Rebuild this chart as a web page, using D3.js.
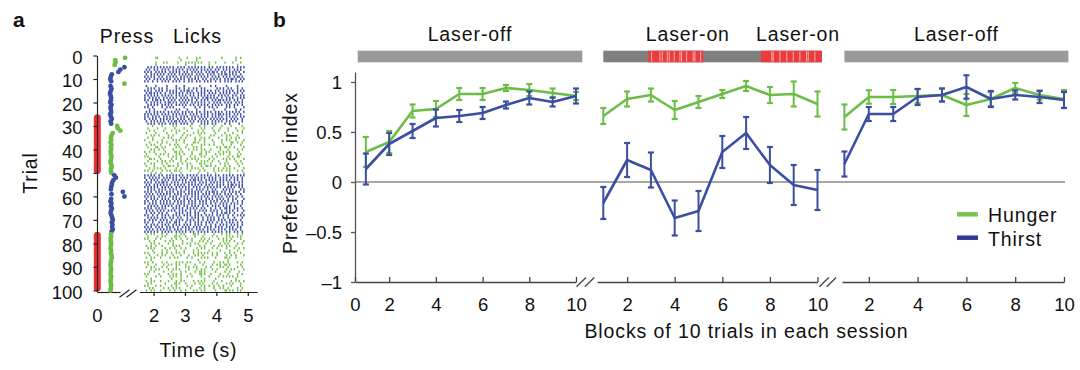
<!DOCTYPE html>
<html><head><meta charset="utf-8">
<script src="https://cdn.jsdelivr.net/npm/d3@7"></script>
<style>
body{margin:0;background:#fff;}
svg{display:block;font-family:"Liberation Sans",Arial,Helvetica,sans-serif;}
</style></head><body>
<svg id="c" width="1080" height="370"></svg>
<script>
// ================= DATA =================
// Panel a: lick raster (hex-encoded 0.05 s bins from 1.70 s, one string per trial 1..100)
const lickStart = 1.7, lickBin = 0.05;
const lickRows = [
"0180021050004024","0000010040000020","010a042aa8441084","0100002080400010",
"2aaaa54aaa52aa95","52952a954aa52a54","a954aa52a95a52a9","4aa952aa54a95aa4",
"aa52a954aa952a5a","52aa954aa52a95a5","a4952a4a52a4952a","0000000000000000",
"4102084010240810","2a520a494a02a512","a952a95a4aa52a95","5aa4aa952a54aa52",
"aa954aa52aa954a5","954aa952a5aa4a95","a5a952aa4a95aa52","4aa5a952aa4a952a",
"2a954aa52a954a52","a412a04092520a41","12040a1042081024","52a954aa52a54aa9",
"aa952aa54a95aa54","a54aa952aa954aa5","952aa54a952aa952","4aa95aa52a954aa2",
"2a54a9520a941208","0410280412084102","208410420a108421","12084a1024090412",
"410208412a041082","0a41209410284a10","240941208a410928","84102a4092104a21",
"10920841a2084192","4a2094120a482104","21940a2148029a41","0a4821094a208412",
"92041a8209412a08","41290a421904a214","a04129048a120498","1a204912a0482a41",
"2094a1204a910824","8a1204941a209412","4209a41209a41208","12a40912a4092a41",
"a4129a0412094a12","0920410020840201","aa52aa954aa52a95","954aa952aa54a952",
"4a952aa5a954aa52","a95a54aa952aa54a","52aa954aa952a5aa","aa954aa952aa954a",
"2a54a92a54942a85","a952a54aa95a52a9","54aa952aa54a9524","aa54a952aa954a92",
"4a952a54a952a4a1","a52a954a952a5492","952aa54a9524a952","2a954a52a4952a44",
"a9542a954a249a52","54a952a4952a4a91","4a520a94a2125a42","a4952a54a952a495",
"2a94a512a4a92442","952a4a9524a952a4","a4529a24a9524a92","4a952a54a924a952",
"a952a4a952a54a94","54aa952a54a952a4","aa954aa52a954a52","4a120941a2084a12",
"20941a2084120a94","a12049120a412904","1204a08214902a41","0a412094a1209412",
"49102a0412094a20","2a0491204a120849","0412084120408210","a2124a412a921244",
"10942108a4120921","4a2094120a841a20","0800000020000400","a4120a941208a412",
"21094a2084129a04","4a1208294120a412","09412a084a120941","120841209a041208",
"a04129041a208412","4120a91208412a90","0800410002040020","4a2109412a084129",
"28041a2094120a84","a12048120a492104","14092a041208a412","4a2091214a041a94"
];
// trial type per trial (H = hunger, T = thirst)
const trialType = ("HHHHT TTTTT THTTT TTTTT TTTTT TTTTH HHHHH HHHHH HHHHH HHHHH " +
                   "TTTTT TTTTT TTTTT TTTTT TTTTT HHHHH HHHHH HHHHH HHHHH HHHHH").replace(/ /g,"");
// lever-press time (s) per trial
const pressTimes = [
0.89,0.58,0.59,0.56,
0.87,0.74,0.68,0.47,0.44,0.42,0.45,0.87,0.43,0.46,0.44,0.41,0.43,0.45,0.44,0.42,0.46,0.43,0.44,0.45,0.42,0.44,0.47,0.43,0.45,
0.64,0.66,0.74,0.50,0.46,0.44,0.45,0.43,0.46,0.44,0.45,0.43,0.44,0.46,0.45,0.43,0.44,0.47,0.45,0.44,0.46,
0.55,0.60,0.52,0.48,0.47,0.45,0.44,0.82,0.46,0.87,0.45,0.43,0.46,0.44,0.47,0.45,0.43,0.46,0.48,0.50,0.47,0.49,0.48,0.50,0.46,
0.44,0.45,0.43,0.44,0.45,0.44,0.43,0.45,0.44,0.46,0.47,0.45,0.44,0.43,0.44,0.45,0.44,0.43,0.45,0.44,0.43,0.44,0.45,0.44,0.43
];
const laserTrialRanges = [[25,50],[75,100]];
const trialTicks = [0,10,20,30,40,50,60,70,80,90,100];
const timeTicks = [2,3,4,5];

// Panel b: preference index per block of 10 trials
const blocks = [1,2,3,4,5,6,7,8,9,10];
const blockTicks = [2,4,6,8,10];
const prefTicks = [-1,-0.5,0,0.5,1];
const hungerOff1    = [0.30,0.40,0.71,0.73,0.88,0.88,0.94,0.92,0.89,0.86];
const hungerOff1Err = [0.15,0.11,0.065,0.08,0.06,0.06,0.03,0.06,0.045,0.04];
const thirstOff1    = [0.13,0.38,0.51,0.64,0.66,0.69,0.77,0.84,0.80,0.86];
const thirstOff1Err = [0.155,0.11,0.07,0.085,0.06,0.06,0.035,0.065,0.045,0.075];
const hungerOn      = [0.66,0.83,0.87,0.72,0.80,0.88,0.96,0.87,0.88,0.78];
const hungerOnErr   = [0.08,0.075,0.065,0.09,0.06,0.04,0.05,0.08,0.125,0.125];
const thirstOn      = [-0.21,0.22,0.12,-0.36,-0.29,0.30,0.49,0.17,-0.03,-0.08];
const thirstOnErr   = [0.16,0.17,0.175,0.175,0.20,0.16,0.16,0.18,0.20,0.20];
const hungerOff2    = [0.65,0.85,0.85,0.86,0.87,0.77,0.83,0.94,0.87,0.83];
const hungerOff2Err = [0.125,0.067,0.07,0.07,0.065,0.11,0.07,0.05,0.045,0.09];
const thirstOff2    = [0.18,0.68,0.68,0.85,0.87,0.95,0.83,0.87,0.85,0.82];
const thirstOff2Err = [0.125,0.07,0.07,0.08,0.065,0.117,0.08,0.045,0.06,0.08];
const sessionLabels = ["Laser-off","Laser-on","Laser-on","Laser-off"];
const laserOnBlocks = [[2.89,5.2],[7.63,10.18]];
const laserPulseMarks = [3.03,3.38,3.48,3.69,3.77,3.98,4.22,4.29,4.5,4.78,4.85,5.09,
                         8.08,8.14,8.42,8.71,8.98,9.26,9.54,9.61,9.89];
const seriesNames = ["Hunger","Thirst"];

// ================= STYLE =================
const GREEN = "#6cbd46", BLUE = "#3b4ea2";
const LICK_G = "#74c04c", LICK_B = "#3d50a4";
const TXT = "#111";
const svg = d3.select("#c");
const wordStyle = sel => sel.attr("font-size",19.5).attr("letter-spacing","0.9px").attr("fill",TXT);

// ================= PANEL A =================
const gA = svg.append("g");
const yT = d3.scaleLinear().domain([0,100]).range([55.5,290.5]);
const xP = d3.scaleLinear().domain([0,0.73]).range([97,120]);
const xL = d3.scaleLinear().domain([1.55,5.3]).range([139.4,257.2]);
const axisYA = 292;

// laser bars
gA.selectAll("rect.laser").data(laserTrialRanges).join("rect")
  .attr("x",93.8).attr("width",7).attr("rx",3.5)
  .attr("y",d=>yT(d[0])).attr("height",d=>yT(d[1])-yT(d[0])+1)
  .attr("fill","#ea2f35");

// y axis
const ayA = gA.append("g").attr("transform","translate(97,0)")
  .call(d3.axisLeft(yT.copy().domain([0,100.7]).range([55.5,292])).tickValues(trialTicks).tickSize(3.5).tickSizeOuter(0).tickPadding(11).tickFormat(d3.format("d")));
ayA.attr("font-family",null);
ayA.selectAll("text").attr("font-size",18.5).attr("fill",TXT).attr("dy","0.42em");
ayA.selectAll("path,line").attr("stroke","#222").attr("stroke-width",1.2);

// press axis (0)
const axP = gA.append("g").attr("transform",`translate(0,${axisYA})`)
  .call(d3.axisBottom(xP).tickValues([0]).tickSize(0).tickSizeOuter(0).tickFormat(d3.format("d")));
// lick axis
const axL = gA.append("g").attr("transform",`translate(0,${axisYA})`)
  .call(d3.axisBottom(xL).tickValues(timeTicks).tickSize(4).tickSizeOuter(0).tickFormat(d3.format("d")));
[axP,axL].forEach(a=>{
  a.attr("font-family",null);
  a.selectAll("text").attr("font-size",18.5).attr("fill",TXT).attr("dy",null).attr("y",29.5);
  a.selectAll("path,line").attr("stroke","#222").attr("stroke-width",1.2);
});
// break marks
[119.5,126.5].forEach(x0=>{
  gA.append("line").attr("x1",x0).attr("y1",297.3).attr("x2",x0+10).attr("y2",289.8)
    .attr("stroke","#222").attr("stroke-width",1.2);
});

// licks
const licks = [];
lickRows.forEach((row,i)=>{
  [...row].forEach((h,dIdx)=>{
    const v = parseInt(h,16);
    for(let b=0;b<4;b++) if(v & (8>>b))
      licks.push({trial:i+1, t: lickStart + (dIdx*4+b+0.5)*lickBin, type: trialType[i]});
  });
});
gA.append("g").selectAll("rect").data(licks).join("rect")
  .attr("x",d=>xL(d.t)-0.75).attr("y",d=>yT(d.trial)-1.15)
  .attr("width",1.5).attr("height",2.3)
  .attr("fill",d=>d.type==="H"?LICK_G:LICK_B);

// press dots
gA.append("g").selectAll("circle").data(pressTimes).join("circle")
  .attr("cx",d=>xP(d)).attr("cy",(d,i)=>yT(i+1)).attr("r",2.4)
  .attr("fill",(d,i)=>trialType[i]==="H"?GREEN:BLUE);

// panel a texts
gA.append("text").attr("x",127).attr("y",42.5).attr("text-anchor","middle").text("Press").call(wordStyle);
gA.append("text").attr("x",197.5).attr("y",42.5).attr("text-anchor","middle").text("Licks").call(wordStyle);
gA.append("text").attr("transform","translate(37,173) rotate(-90)").attr("text-anchor","middle").text("Trial").call(wordStyle);
gA.append("text").attr("x",198.5).attr("y",356.5).attr("text-anchor","middle").text("Time (s)").call(wordStyle);
svg.append("text").attr("x",13).attr("y",27).attr("font-size",21).attr("font-weight","bold").attr("fill",TXT).text("a");

// ================= PANEL B =================
const gB = svg.append("g");
const yB = d3.scaleLinear().domain([-1,1]).range([282,82]);
const sections = [
  {range:[342.5,576],  axStart:0.535, bar:[0.65,10.27], hunger:hungerOff1, hErr:hungerOff1Err, thirst:thirstOff1, tErr:thirstOff1Err, barColor:"#9a9a9a", zeroLabel:true},
  {range:[579.5,817.5],axStart:0.74,  bar:[1.0,10.18],  hunger:hungerOn,   hErr:hungerOnErr,   thirst:thirstOn,   tErr:thirstOnErr,   barColor:"#808080", laser:true},
  {range:[820,1064],   axStart:0.9,   bar:[1.0,10.18],  hunger:hungerOff2, hErr:hungerOff2Err, thirst:thirstOff2, tErr:thirstOff2Err, barColor:"#9a9a9a"}
];
sections.forEach(s=>{ s.x = d3.scaleLinear().domain([0,10]).range(s.range); });

// zero line
gB.append("line").attr("x1",355).attr("x2",sections[2].x(10)+1).attr("y1",yB(0)).attr("y2",yB(0))
  .attr("stroke","#8a8a8a").attr("stroke-width",1.5);

// y axis
const ayB = gB.append("g").attr("transform","translate(355,0)")
  .call(d3.axisLeft(yB.copy().domain([-1,1.1]).range([282,72])).tickValues(prefTicks).tickSize(4).tickSizeOuter(0).tickPadding(9)
  .tickFormat(d=> d===0?"0": (d<0?"\u2013":"") + d3.format("")(Math.abs(d))));
ayB.attr("font-family",null);
ayB.selectAll("text").attr("font-size",18.5).attr("fill",TXT).attr("dy","0.36em");
ayB.selectAll("path,line").attr("stroke","#555").attr("stroke-width",1.3);

sections.forEach((s,si)=>{
  // x axis
  const sc = s.x.copy().domain([s.axStart,10]).range([s.x(s.axStart), s.x(10)]);
  const tv = s.zeroLabel ? [s.axStart].concat(blockTicks) : blockTicks;
  const ax = gB.append("g").attr("transform",`translate(0,${yB(-1)})`)
    .call(d3.axisBottom(sc).tickValues(tv).tickSize(-5).tickSizeOuter(0).tickFormat(d=>d<1?"0":d));
  ax.attr("font-family",null);
  ax.selectAll("text").attr("font-size",18.5).attr("fill",TXT).attr("dy",null).attr("y",28.5);
  ax.selectAll("path,line").attr("stroke","#444").attr("stroke-width",1.3);

  // session bar
  gB.append("rect").attr("x",s.x(s.bar[0])).attr("width",s.x(s.bar[1])-s.x(s.bar[0]))
    .attr("y",50.7).attr("height",11.6).attr("fill",s.barColor);
  if(s.laser){
    gB.selectAll(null).data(laserOnBlocks).join("rect")
      .attr("x",d=>s.x(d[0])).attr("width",d=>s.x(d[1])-s.x(d[0]))
      .attr("y",50.7).attr("height",11.6).attr("fill","#ec3b3e");
    gB.selectAll(null).data(laserPulseMarks).join("line")
      .attr("x1",d=>s.x(d)).attr("x2",d=>s.x(d)).attr("y1",51.5).attr("y2",61.5)
      .attr("stroke","#fff").attr("stroke-opacity",0.75).attr("stroke-width",0.8);
  }

  // series
  [[s.hunger,s.hErr,GREEN],[s.thirst,s.tErr,BLUE]].forEach(([vals,errs,col])=>{
    const g = gB.append("g");
    g.append("path").datum(vals)
      .attr("d",d3.line().x((d,i)=>s.x(blocks[i])).y(d=>yB(d)))
      .attr("fill","none").attr("stroke",col).attr("stroke-width",2.6).attr("stroke-linejoin","round");
    const eb = g.selectAll("g.eb").data(vals).join("g");
    eb.append("line").attr("x1",(d,i)=>s.x(blocks[i])).attr("x2",(d,i)=>s.x(blocks[i]))
      .attr("y1",(d,i)=>yB(d-errs[i])).attr("y2",(d,i)=>yB(d+errs[i]))
      .attr("stroke",col).attr("stroke-width",2);
    [-1,1].forEach(sg=>{
      eb.append("line").attr("x1",(d,i)=>s.x(blocks[i])-3).attr("x2",(d,i)=>s.x(blocks[i])+3)
        .attr("y1",(d,i)=>yB(d+sg*errs[i])).attr("y2",(d,i)=>yB(d+sg*errs[i]))
        .attr("stroke",col).attr("stroke-width",2.2);
    });
  });
});

// break marks panel b
[[576.5,584.8],[819.3,826.7]].forEach(pair=>pair.forEach(x0=>{
  gB.append("line").attr("x1",x0).attr("y1",286.7).attr("x2",x0+9.5).attr("y2",277.5)
    .attr("stroke","#444").attr("stroke-width",1.3);
}));

// session labels
const labelPos = [
  sections[0].x((sections[0].bar[0]+sections[0].bar[1])/2),
  sections[1].x(4.55),
  sections[1].x(9.18),
  sections[2].x((sections[2].bar[0]+sections[2].bar[1])/2)
];
gB.selectAll("text.sess").data(sessionLabels).join("text")
  .attr("x",(d,i)=>labelPos[i]).attr("y",40.5).attr("text-anchor","middle").text(d=>d).call(wordStyle);

// axis titles
gB.append("text").attr("transform","translate(297,173) rotate(-90)").attr("text-anchor","middle")
  .text("Preference index").call(wordStyle);
gB.append("text").attr("x",746.5).attr("y",337.5).attr("text-anchor","middle")
  .text("Blocks of 10 trials in each session").call(wordStyle);
svg.append("text").attr("x",273).attr("y",27).attr("font-size",21).attr("font-weight","bold").attr("fill",TXT).text("b");

// legend
const legCols = ["#80c44f","#2f3a94"];
const lg = gB.append("g");
lg.selectAll("line").data(seriesNames).join("line")
  .attr("x1",957).attr("x2",978).attr("y1",(d,i)=>214.3+i*23.4).attr("y2",(d,i)=>214.3+i*23.4)
  .attr("stroke",(d,i)=>legCols[i]).attr("stroke-width",4.5);
lg.selectAll("text").data(seriesNames).join("text")
  .attr("x",988).attr("y",(d,i)=>221.7+i*24.3).text(d=>d).call(wordStyle);
</script>
</body></html>
